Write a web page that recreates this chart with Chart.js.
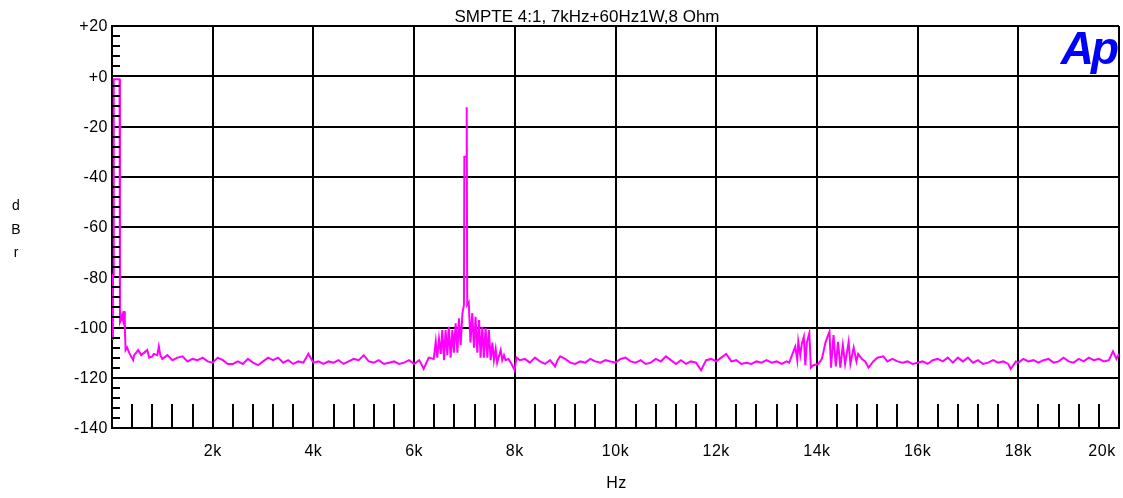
<!DOCTYPE html>
<html>
<head>
<meta charset="utf-8">
<script src="https://cdn.jsdelivr.net/npm/chart.js@4/dist/chart.umd.min.js"></script>
<style>
  html, body { margin: 0; padding: 0; background: #fff; }
  #spectrum { display: block; }
</style>
</head>
<body>
<canvas id="spectrum" width="1123" height="498"></canvas>
<script>
/* SMPTE IMD spectrum — 7kHz + 60Hz, 4:1 */

const chartTitle = 'SMPTE 4:1, 7kHz+60Hz1W,8 Ohm';
const yTickLabels = ['+20', '+0', '-20', '-40', '-60', '-80', '-100', '-120', '-140'];
const xTickLabels = ['2k', '4k', '6k', '8k', '10k', '12k', '14k', '16k', '18k', '20k'];

// frequency (Hz) / level (dBr) pairs
const freqs = [
    18, 20, 35, 100, 150, 158, 180, 200, 220, 240, 255, 270,
    300, 340, 420, 440, 520, 580, 640, 700, 740, 800, 830, 900, 930, 960,
    1000, 1100, 1200, 1300, 1400, 1500, 1600, 1700, 1800, 1900,
    2000, 2100, 2200, 2300, 2400, 2500, 2600, 2700, 2800, 2900,
    3000, 3100, 3200, 3300, 3400, 3500, 3600, 3700, 3800, 3900,
    4000, 4100, 4200, 4300, 4400, 4500, 4600, 4700, 4800, 4900,
    5000, 5100, 5200, 5300, 5400, 5500, 5600, 5700, 5800, 5900,
    6000, 6100, 6130, 6190, 6290, 6390,
    6430, 6460, 6495, 6530, 6560, 6595, 6625, 6660, 6690, 6725,
    6760, 6790, 6825, 6860, 6890, 6925, 6960, 6990,
    6998, 7035, 7045, 7055,
    7085, 7120, 7155, 7190, 7220, 7255, 7290, 7320, 7355, 7385,
    7420, 7455, 7485, 7520, 7555, 7585, 7620, 7650, 7720, 7750,
    7785, 7815, 7875, 7935, 7995, 8035,
    8100, 8200, 8300, 8400, 8500, 8600, 8700, 8800, 8850, 8900,
    9000, 9100, 9200, 9300, 9400, 9500, 9600, 9700, 9800, 9900,
    10000, 10100, 10200, 10300, 10400, 10500, 10600, 10700, 10800, 10900,
    11000, 11100, 11200, 11300, 11400, 11500, 11600, 11700, 11800, 11900,
    12000, 12100, 12200, 12300, 12400, 12500, 12600, 12700, 12800, 12900,
    13000, 13100, 13200, 13300, 13400, 13450,
    13570, 13610, 13630, 13670, 13700, 13740, 13770, 13800, 13850, 13880,
    13930, 14030, 14100, 14170, 14210, 14250, 14280, 14330, 14375, 14420,
    14465, 14515, 14560, 14630, 14665, 14730, 14785, 14820, 14890, 14960,
    15025, 15120, 15200, 15320,
    15400, 15500, 15600, 15700, 15800, 15900,
    16000, 16100, 16200, 16300, 16400, 16500, 16600, 16700, 16800, 16900,
    17000, 17100, 17200, 17300, 17400, 17500, 17600, 17700, 17800, 17850, 17950,
    18000, 18100, 18200, 18300, 18400, 18500, 18600, 18700, 18800, 18900,
    19000, 19100, 19200, 19300, 19400, 19500, 19600, 19700, 19800, 19880, 19950, 20000
];

const levels = [
    -105, -79, -1.2, -1.2, -1.2, -98, -97, -95, -97, -93.5, -100, -109,
    -108, -110, -113, -111, -109, -111, -110, -109, -112, -111.5, -110.5, -111, -107.5, -111,
    -112.5, -111, -113, -112, -111.5, -113.5, -112.5, -113, -112, -113.5,
    -114, -112, -113, -114.5, -114.5, -113.5, -114.5, -112.5, -114, -115,
    -113.5, -112, -113, -112, -114, -113, -114.5, -113.5, -114, -110.5,
    -114, -113.5, -114.5, -113.5, -114, -113, -114.5, -113.5, -112.5, -113,
    -111, -113.5, -114, -113, -114.5, -114, -113.5, -114.5, -114, -113,
    -114.5, -113, -114, -116.5, -112, -112.5,
    -105.6, -112, -104.5, -110.5, -101, -113, -101, -111, -99.7, -112,
    -101, -110, -98.3, -110, -96.3, -107, -94.3, -91,
    -32, -32, -12.3, -91,
    -90, -106, -94.3, -108, -95.7, -110, -97, -112, -99.7, -112,
    -100.2, -112, -101, -113, -106, -113, -108.5, -114, -109, -113,
    -111, -113, -112.5, -114.5, -117, -112,
    -113, -112.5, -114, -112, -113.5, -114.5, -113, -115.5, -113, -111.5,
    -112.5, -114, -114.5, -113.5, -114, -112.5, -113.5, -114, -113, -113.5,
    -114, -112.5, -112, -113.5, -114, -113, -114.5, -114, -112.5, -113.5,
    -111.5, -113, -114.5, -113, -114.5, -113.5, -114, -117, -113, -112.5,
    -113.5, -112, -110.5, -113.5, -113, -114.5, -114, -114.5, -113.5, -114,
    -113, -114, -113.5, -114.5, -113.5, -114,
    -107.6, -113, -105.6, -111, -106.5, -103.7, -115, -106, -102.2, -116,
    -115, -114.5, -112.5, -106, -103.7, -101.7, -116, -103, -115.5, -105.7,
    -116, -107, -114.5, -105.7, -114.5, -108, -113.5, -110.5, -112.5, -113.5,
    -116, -113.5, -112, -111.5,
    -113.5, -112.5, -113.5, -114, -113.5, -114.5,
    -114, -113.5, -114.5, -113, -112.5, -113.5, -112, -114, -112, -113.5,
    -112, -114, -113, -114.5, -114, -113, -114, -113.5, -114.5, -116.5, -113.5,
    -114, -112.5, -113.5, -113, -114, -113, -112.5, -114, -113.5, -112,
    -113.5, -114, -112.5, -113.5, -112, -113, -112.5, -113.5, -113, -109.5, -112.5, -110.5
];

const X_MIN = 0, X_MAX = 20000, X_STEP = 2000, X_MINOR = 400;
const Y_MIN = -140, Y_MAX = 20, Y_STEP = 20, Y_MINOR = 4;

const TRACE_COLOR = '#ff00ff';
const GRID_COLOR = '#000';
const LABEL_FONT = '16px "Liberation Sans", Arial, sans-serif';

// labels, minor ticks and the Ap badge, drawn off the chart's own scales
const decorPlugin = {
    id: 'apDecor',
    afterDraw(chart) {
        const { ctx, chartArea: area, scales: { x, y } } = chart;
        ctx.save();

        // minor ticks on left edge and along the bottom
        ctx.strokeStyle = GRID_COLOR;
        ctx.lineWidth = 2;
        ctx.beginPath();
        for (let v = Y_MIN; v < Y_MAX; v += Y_MINOR) {
            if (v % Y_STEP === 0) continue;
            const py = Math.round(y.getPixelForValue(v));
            ctx.moveTo(area.left, py);
            ctx.lineTo(area.left + 8, py);
        }
        for (let v = X_MIN + X_MINOR; v < X_MAX; v += X_MINOR) {
            if (v % X_STEP === 0) continue;
            const px = Math.round(x.getPixelForValue(v));
            ctx.moveTo(px, area.bottom);
            ctx.lineTo(px, area.bottom - 24);
        }
        ctx.stroke();

        ctx.fillStyle = '#000';
        ctx.font = LABEL_FONT;
        ctx.letterSpacing = '0.5px';

        // y tick labels
        ctx.textAlign = 'right';
        ctx.textBaseline = 'middle';
        yTickLabels.forEach((lbl, i) => {
            ctx.fillText(lbl, area.left - 4, y.getPixelForValue(Y_MAX - i * Y_STEP) + 1);
        });

        // x tick labels (last one pulled inside like the original)
        ctx.textAlign = 'center';
        ctx.textBaseline = 'alphabetic';
        xTickLabels.forEach((lbl, i) => {
            let px = x.getPixelForValue(X_STEP * (i + 1));
            if (i === xTickLabels.length - 1) px -= 17;
            ctx.fillText(lbl, px, area.bottom + 28);
        });

        // axis titles
        ctx.fillText('Hz', (area.left + area.right) / 2 + 1, 488);
        ctx.letterSpacing = '0px';
        ctx.font = '14px "Liberation Sans", Arial, sans-serif';
        ['d', 'B', 'r'].forEach((ch, i) => ctx.fillText(ch, 16, 210 + i * 23.5));

        // title
        ctx.font = '17px "Liberation Sans", Arial, sans-serif';
        ctx.fillText(chartTitle, 587, 22);

        // Ap logo
        ctx.fillStyle = '#0000ff';
        ctx.font = 'italic bold 46px "Liberation Sans", Arial, sans-serif';
        ctx.textAlign = 'right';
        ctx.letterSpacing = '-3px';
        ctx.fillText('Ap', area.right - 3, 64);

        ctx.restore();
    }
};

new Chart(document.getElementById('spectrum'), {
    type: 'line',
    data: {
        datasets: [{
            label: 'dBr',
            data: freqs.map((f, i) => ({ x: f, y: levels[i] })),
            borderColor: TRACE_COLOR,
            borderWidth: 2,
            pointRadius: 0,
            tension: 0,
            fill: false
        }]
    },
    options: {
        responsive: false,
        animation: false,
        devicePixelRatio: 1,
        layout: { padding: { left: 112, right: 4, top: 26, bottom: 70 } },
        plugins: {
            legend: { display: false },
            tooltip: { enabled: false },
            title: { display: false }
        },
        scales: {
            x: {
                type: 'linear',
                min: X_MIN,
                max: X_MAX,
                ticks: { display: false, stepSize: X_STEP },
                grid: { color: GRID_COLOR, lineWidth: 2, drawTicks: false },
                border: { color: GRID_COLOR, width: 2 }
            },
            y: {
                min: Y_MIN,
                max: Y_MAX,
                ticks: { display: false, stepSize: Y_STEP },
                grid: { color: GRID_COLOR, lineWidth: 2, drawTicks: false },
                border: { color: GRID_COLOR, width: 2 }
            }
        }
    },
    plugins: [decorPlugin]
});
</script>
</body>
</html>
